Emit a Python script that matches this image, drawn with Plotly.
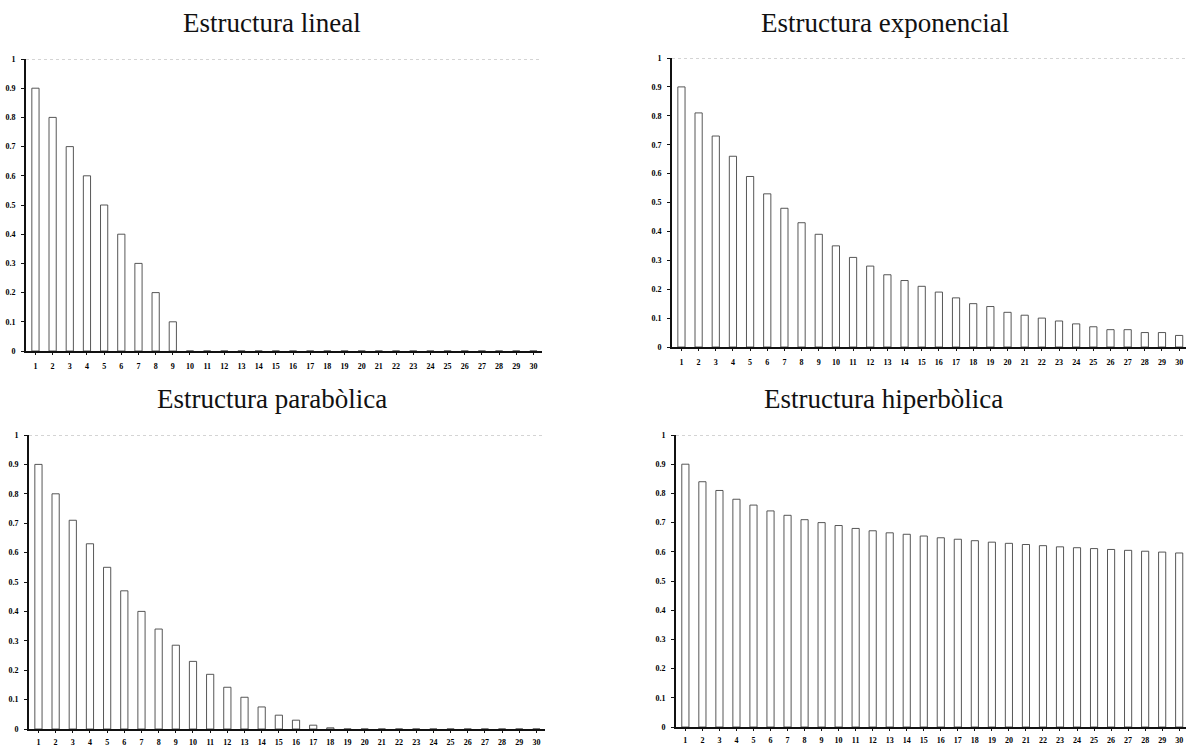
import plotly.graph_objects as go

periods = list(range(1, 31))
tick_labels = [str(p) for p in periods]

lineal = [0.9, 0.8, 0.7, 0.6, 0.5, 0.4, 0.3, 0.2, 0.1] + [0.0] * 21

exponencial = [0.90, 0.81, 0.73, 0.66, 0.59, 0.53, 0.48, 0.43, 0.39, 0.35,
               0.31, 0.28, 0.25, 0.23, 0.21, 0.19, 0.17, 0.15, 0.14, 0.12,
               0.11, 0.10, 0.09, 0.08, 0.07, 0.06, 0.06, 0.05, 0.05, 0.04]

parabolica = [0.90, 0.80, 0.71, 0.63, 0.55, 0.47, 0.40, 0.34, 0.285, 0.23,
              0.186, 0.142, 0.108, 0.075, 0.047, 0.03, 0.013, 0.004, 0.0, 0.0,
              0.0, 0.0, 0.0, 0.0, 0.0, 0.0, 0.0, 0.0, 0.0, 0.0]

hiperbolica = [0.90, 0.84, 0.81, 0.78, 0.76, 0.74, 0.725, 0.71, 0.70, 0.69,
               0.68, 0.672, 0.665, 0.66, 0.654, 0.648, 0.643, 0.638, 0.633, 0.629,
               0.625, 0.621, 0.617, 0.614, 0.611, 0.608, 0.605, 0.602, 0.599, 0.596]

titles = ["Estructura lineal", "Estructura exponencial",
          "Estructura parabòlica", "Estructura hiperbòlica"]
series = [lineal, exponencial, parabolica, hiperbolica]
y_ticks = [0, 0.1, 0.2, 0.3, 0.4, 0.5, 0.6, 0.7, 0.8, 0.9, 1]
y_tick_text = ["0", "0.1", "0.2", "0.3", "0.4", "0.5", "0.6", "0.7", "0.8", "0.9", "1"]

W, H = 1188, 750
# screen pixel geometry of each panel: (x_left, x_right, y_zero, y_one)
panels = [(26, 542, 351, 59), (672, 1186, 347, 58),
          (29, 545, 729, 435), (676, 1186, 727, 435)]
x_ranges = [[0.45, 30.5], [0.45, 30.4], [0.45, 30.5], [0.45, 30.4]]
title_pos = [(272, 23), (885, 23), (272, 399), (883, 399)]
label_standoff = [5, 5, 3, 3]


def px_x(v):
    return v / W


def px_y(v):
    return 1 - v / H


fig = go.Figure()
tick_font = dict(family="Liberation Serif", size=8, color="#000", weight="bold")

for i, (vals, (xl, xr, y0, y1)) in enumerate(zip(series, panels)):
    n = "" if i == 0 else str(i + 1)
    fig.add_trace(go.Bar(
        x=periods, y=vals, xaxis="x" + n, yaxis="y" + n, width=0.42,
        marker=dict(color="white", line=dict(color="#444", width=0.9)),
        showlegend=False, hoverinfo="x+y", cliponaxis=False))
    fig.layout["xaxis" + n] = dict(
        domain=[px_x(xl), px_x(xr)], range=x_ranges[i], anchor="y" + n,
        tickmode="array", tickvals=periods, ticktext=tick_labels,
        showline=True, linecolor="#111", linewidth=1.5, ticks="outside",
        ticklen=2, tickcolor="#111", tickfont=tick_font, showgrid=False,
        zeroline=False, ticklabelstandoff=label_standoff[i], fixedrange=True,
        ticklabeloverflow="allow", automargin=False)
    fig.layout["yaxis" + n] = dict(
        domain=[px_y(y0), px_y(y1)], range=[0, 1.0], anchor="x" + n,
        tickmode="array", tickvals=y_ticks, ticktext=y_tick_text,
        showline=True, linecolor="#111", linewidth=1.8, ticks="outside",
        ticklen=3, tickcolor="#111", tickfont=tick_font, showgrid=False,
        zeroline=False, ticklabelstandoff=4, fixedrange=True,
        ticklabeloverflow="allow", automargin=False)
    fig.add_shape(type="line", xref="x" + n + " domain", yref="y" + n,
                  x0=0.0, x1=1.0, y0=1, y1=1,
                  line=dict(color="#aaa", width=1, dash="dot"))
    tx, ty = title_pos[i]
    fig.add_annotation(text=titles[i], x=px_x(tx), y=px_y(ty), xref="paper",
                       yref="paper", showarrow=False, xanchor="center",
                       yanchor="middle",
                       font=dict(family="Liberation Serif", size=27, color="#111"))

fig.update_layout(width=W, height=H, margin=dict(l=0, r=0, t=0, b=0),
                  plot_bgcolor="white", paper_bgcolor="white", bargap=0.5)
fig.write_html("out.html", config={"displayModeBar": False},
               post_script="document.body.style.margin='0';"
                           "document.body.style.overflow='hidden';")
